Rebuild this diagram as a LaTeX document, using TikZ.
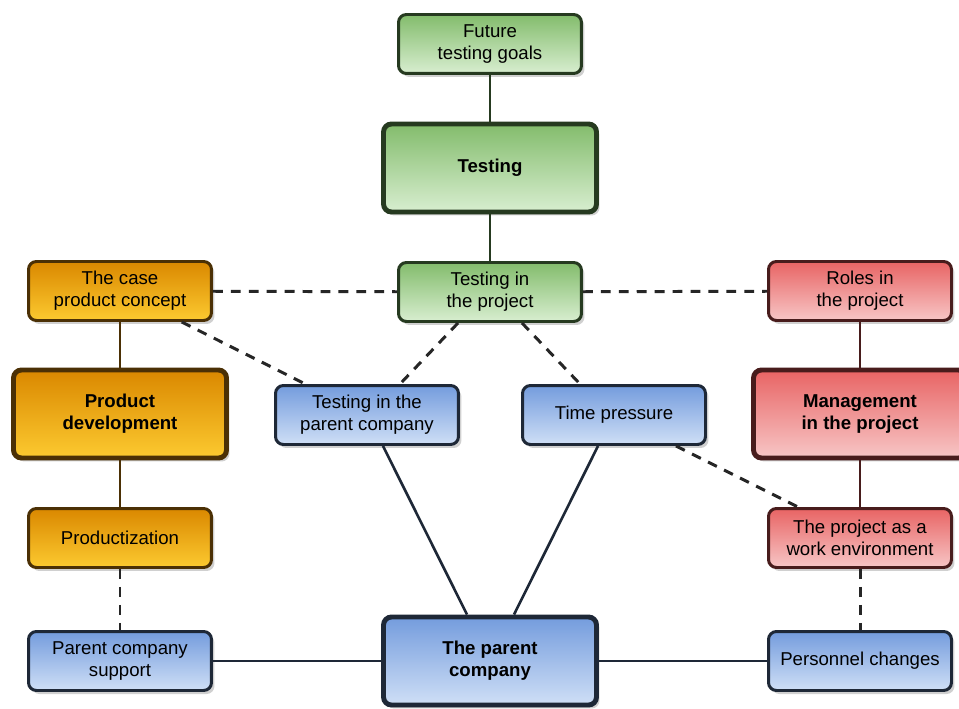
\documentclass[tikz,border=0pt]{standalone}
\usepackage{fontspec}
\setmainfont{Liberation Sans}
\usetikzlibrary{shadows}
\definecolor{grntop}{RGB}{131,188,108}
\definecolor{grnbot}{RGB}{216,238,208}
\definecolor{grnline}{RGB}{38,58,32}
\definecolor{orgtop}{RGB}{218,136,0}
\definecolor{orgbot}{RGB}{252,202,48}
\definecolor{orgline}{RGB}{75,48,5}
\definecolor{redtop}{RGB}{232,100,100}
\definecolor{redbot}{RGB}{247,198,198}
\definecolor{redline}{RGB}{72,28,28}
\definecolor{blutop}{RGB}{116,156,221}
\definecolor{blubot}{RGB}{207,223,246}
\definecolor{bluline}{RGB}{30,40,55}
\begin{document}
\begin{tikzpicture}[x=0.02cm,y=-0.02cm,
    box/.style={draw,rounded corners=4.5pt,line width=1.7pt,minimum width=3.66cm,minimum height=1.18cm,
        align=center,inner sep=2pt,font=\fontsize{10.6}{12.6}\selectfont,
        drop shadow={shadow xshift=0.06cm,shadow yshift=-0.07cm,opacity=0.3,fill=black!60}},
    bigbox/.style={box,line width=2.8pt,minimum width=4.26cm,minimum height=1.76cm,
        font=\fontsize{10.6}{12.6}\selectfont\bfseries},
    testbox/.style={draw=grnline,top color=grntop,bottom color=grnbot},
    prodbox/.style={draw=orgline,top color=orgtop,bottom color=orgbot},
    projbox/.style={draw=redline,top color=redtop,bottom color=redbot},
    compbox/.style={draw=bluline,top color=blutop,bottom color=blubot},
    link/.style={line width=1.5pt},
    loose/.style={line width=1.7pt,black!85,dash pattern=on 5.6pt off 4.6pt}]
    \fill[white] (0,0) rectangle (959,709);
    \useasboundingbox (0,0) rectangle (959,709);

    % middle column
    \node[box,testbox] (goals) at (490,44) {Future\\testing goals};
    \node[bigbox,testbox] (testing) at (490,168) {Testing};
    \node[box,testbox] (tproj) at (490,292) {Testing in\\the project};
    \node[box,compbox] (tparent) at (367,415) {Testing in the\\parent company};
    \node[box,compbox] (timep) at (614,415) {Time pressure};
    \node[bigbox,compbox] (parent) at (490,661) {The parent\\company};

    % left column
    \node[box,prodbox] (concept) at (120,291) {The case\\product concept};
    \node[bigbox,prodbox] (proddev) at (120,414) {Product\\development};
    \node[box,prodbox] (productiz) at (120,538) {Productization};
    \node[box,compbox] (support) at (120,661) {Parent company\\support};

    % right column
    \node[box,projbox] (roles) at (860,291) {Roles in\\the project};
    \node[bigbox,projbox] (mgmt) at (860,414) {Management\\in the project};
    \node[box,projbox] (workenv) at (860,538) {The project as a\\work environment};
    \node[box,compbox] (personnel) at (860,661) {Personnel changes};

    % solid links
    \draw[link,grnline] (goals) -- (testing);
    \draw[link,grnline] (testing) -- (tproj);
    \draw[link,orgline] (concept) -- (proddev);
    \draw[link,orgline] (proddev) -- (productiz);
    \draw[link,redline] (roles) -- (mgmt);
    \draw[link,redline] (mgmt) -- (workenv);
    \draw[link,bluline] (support) -- (parent);
    \draw[link,bluline] (parent) -- (personnel);
    \draw[link,bluline] ([xshift=0.32cm]tparent.south) -- ([xshift=-0.46cm]parent.north);
    \draw[link,bluline] ([xshift=-0.32cm]timep.south) -- ([xshift=0.48cm]parent.north);

    % dashed links
    \draw[loose] (concept) -- (tproj);
    \draw[loose] (tproj) -- (roles);
    \draw[loose] (productiz) -- (support);
    \draw[loose] (workenv) -- (personnel);
    \draw[loose] (concept) -- (tparent);
    \draw[loose] (timep) -- (workenv);
    \draw[loose] ([xshift=-0.64cm]tproj.south) -- ([xshift=0.66cm]tparent.north);
    \draw[loose] ([xshift=0.64cm]tproj.south) -- ([xshift=-0.68cm]timep.north);
\end{tikzpicture}
\end{document}
